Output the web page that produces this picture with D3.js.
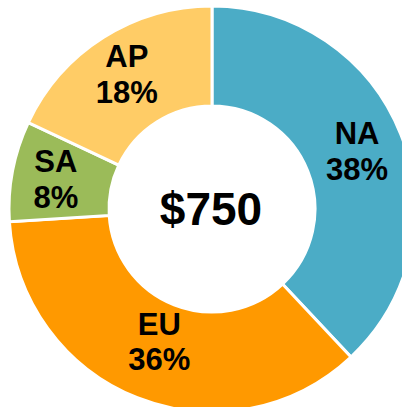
<!DOCTYPE html>
<meta charset="utf-8">
<script src="https://d3js.org/d3.v7.min.js"></script>
<style>
    body { margin: 0; background: #fff; }
    .label { font-family: "Liberation Sans", Arial, sans-serif; font-weight: bold; fill: #000; }
</style>
<body>
<svg width="402" height="407" class="donut"></svg>
</body>
<script>
    // regions, clockwise from 12 o'clock
    const regions = ['NA', 'EU', 'SA', 'AP'];
    const sales = [285, 270, 60, 135];
    const colors = ['#4BACC6', '#FF9900', '#9BBB59', '#FFCC66'];
    const totalLabel = '$750';

    const cx = 212, cy = 209,
        outerR = 203, innerR = 103;

    // EU label sits a bit further in than the others
    const labelR = { NA: 156, EU: 143, SA: 159, AP: 159 };

    const data = regions.map((r, i) => ({ region: r, value: sales[i], color: colors[i] }));
    const total = d3.sum(sales);

    const pie = d3.pie().sort(null).value(d => d.value);
    const arc = d3.arc().innerRadius(innerR).outerRadius(outerR);

    const g = d3.select('.donut')
        .append('g')
        .attr('transform', 'translate(' + cx + ',' + cy + ')');

    const slices = g.selectAll('.slice')
        .data(pie(data))
        .enter()
        .append('g')
        .attr('class', 'slice');

    slices.append('path')
        .attr('d', arc)
        .attr('fill', d => d.data.color)
        .attr('stroke', '#fff')
        .attr('stroke-width', 3);

    const labels = slices.append('text')
        .attr('class', 'label')
        .attr('text-anchor', 'middle')
        .attr('font-size', 31)
        .attr('transform', d => {
            const a = (d.startAngle + d.endAngle) / 2;
            const r = labelR[d.data.region];
            return 'translate(' + (Math.sin(a) * r) + ',' + (-Math.cos(a) * r) + ')';
        });

    labels.append('tspan')
        .attr('x', 0)
        .attr('dy', '-0.24em')
        .text(d => d.data.region);

    labels.append('tspan')
        .attr('x', 0)
        .attr('dy', '1.16em')
        .text(d => Math.round(d.data.value / total * 100) + '%');

    g.append('text')
        .attr('class', 'label')
        .attr('text-anchor', 'middle')
        .attr('font-size', 46)
        .attr('x', -1)
        .attr('y', 16)
        .text(totalLabel);
</script>
